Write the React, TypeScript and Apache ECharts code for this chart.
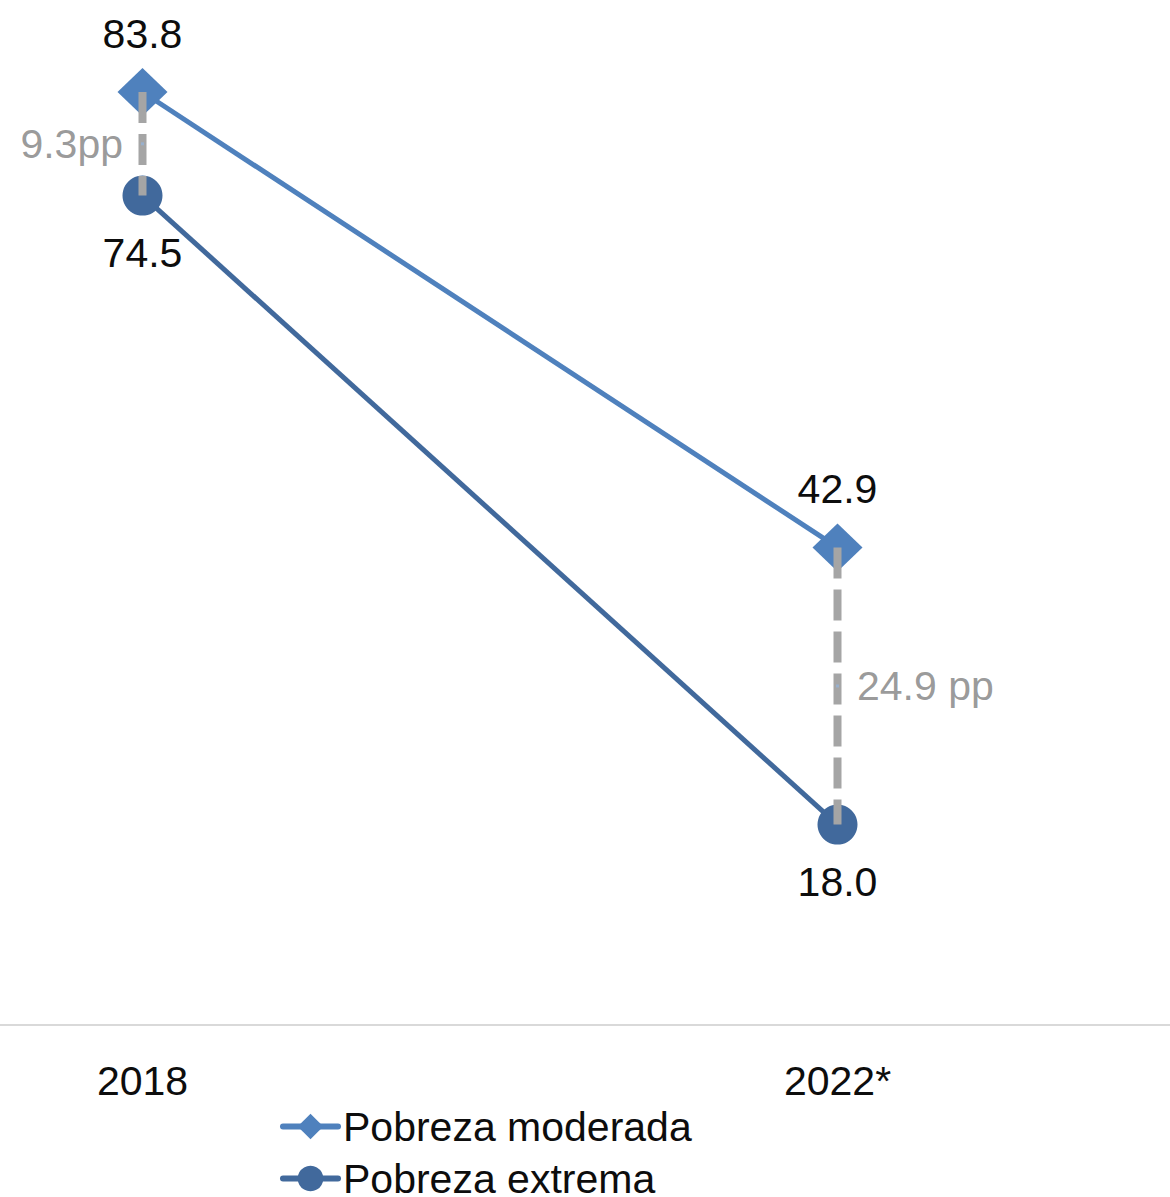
import React, { useEffect, useRef } from "react";
import * as echarts from "echarts";

const categories = ["2018", "2022*"];
const moderada = [83.8, 42.9];
const extrema = [74.5, 18.0];
const gapLabels = ["9.3pp", "24.9 pp"];
const seriesNames = ["Pobreza moderada", "Pobreza extrema"];

const FONT = "'Liberation Sans', Arial, Helvetica, sans-serif";
const C_MOD = "#4F81BD";
const C_EXT = "#41699C";
const C_GAP = "#A5A5A5";
const SHIFT = 205;

export default function App() {
  const ref = useRef<HTMLDivElement>(null);
  useEffect(() => {
    if (!ref.current) return;
    const chart = echarts.init(ref.current, null, { renderer: "svg" });
    const gapSeries: any[] = [];
    categories.forEach((cat, i) => {
      gapSeries.push({
        type: "line",
        name: "gap" + i,
        data: [
          [cat, moderada[i]],
          [cat, extrema[i]],
        ],
        symbol: "none",
        z: 5,
        lineStyle: { color: C_GAP, width: 8, type: [31, 11], cap: "butt" },
        silent: true,
      });
      gapSeries.push({
        type: "scatter",
        name: "gaplabel" + i,
        data: [[cat, (moderada[i] + extrema[i]) / 2]],
        symbol: "rect",
        symbolSize: 3,
        z: 6,
        itemStyle: { color: "#95B3D7" },
        label: {
          show: true,
          position: i === 0 ? "left" : "right",
          distance: 18,
          formatter: gapLabels[i],
          color: "#7F7F7F",
          fontSize: 41,
          fontFamily: FONT,
        },
      });
    });
    const legendCommon = {
      orient: "horizontal",
      left: 275 + SHIFT,
      itemWidth: 55,
      itemHeight: 32,
      lineStyle: { width: 6, cap: "round" },
      textStyle: { fontSize: 41, fontFamily: FONT, color: "#0D0D0D" },
    };
    chart.setOption({
      animation: false,
      grid: { left: 0, right: 0, top: 23, bottom: 172 },
      xAxis: {
        type: "category",
        data: categories,
        boundaryGap: true,
        axisLine: { lineStyle: { color: "#D9D9D9", width: 2 } },
        axisTick: { show: false },
        axisLabel: { color: "#0D0D0D", fontSize: 41, fontFamily: FONT, margin: 35 },
        splitLine: { show: false },
      },
      yAxis: { type: "value", min: 0, max: 90, show: false, splitLine: { show: false } },
      legend: [
        { ...legendCommon, data: [seriesNames[0]], top: 1101 },
        { ...legendCommon, data: [seriesNames[1]], top: 1153 },
      ],
      series: [
        {
          type: "line",
          name: seriesNames[0],
          data: moderada,
          symbol: "diamond",
          symbolSize: [50, 48],
          z: 3,
          lineStyle: { color: C_MOD, width: 5 },
          itemStyle: { color: C_MOD },
          label: {
            show: true,
            position: "top",
            distance: 14,
            formatter: (p: any) => Number(p.value).toFixed(1),
            color: "#0D0D0D",
            fontSize: 41,
            fontFamily: FONT,
          },
        },
        {
          type: "line",
          name: seriesNames[1],
          data: extrema,
          symbol: "circle",
          symbolSize: 40,
          z: 3,
          lineStyle: { color: C_EXT, width: 5 },
          itemStyle: { color: C_EXT },
          label: {
            show: true,
            position: "bottom",
            distance: 17,
            formatter: (p: any) => Number(p.value).toFixed(1),
            color: "#0D0D0D",
            fontSize: 41,
            fontFamily: FONT,
          },
        },
        ...gapSeries,
      ],
    });
    return () => chart.dispose();
  }, []);
  return (
    <div
      style={{
        position: "absolute",
        left: 0,
        top: 0,
        width: 1170,
        height: 1197,
        overflow: "hidden",
        background: "#fff",
      }}
    >
      <div
        ref={ref}
        style={{ position: "absolute", left: -SHIFT, top: 0, width: 1390, height: 1197 }}
      />
    </div>
  );
}
